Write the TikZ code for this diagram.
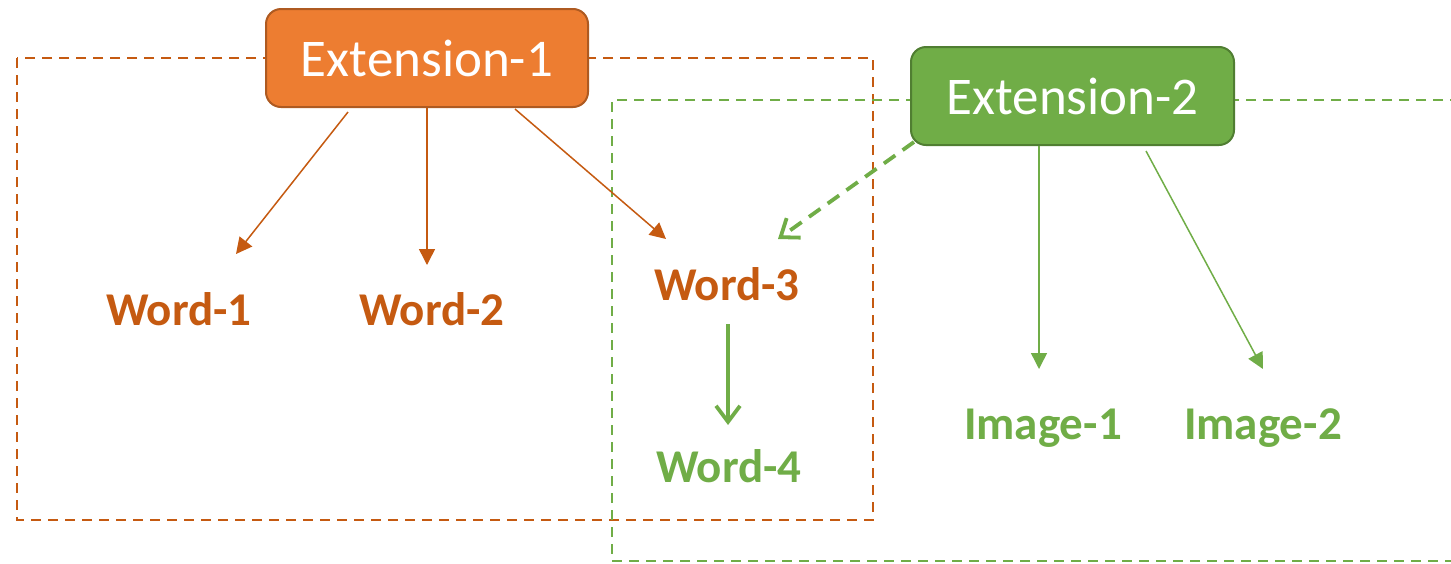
\documentclass[tikz,border=0pt]{standalone}
\usepackage{fontspec}
\setmainfont{Carlito}
\usetikzlibrary{arrows.meta,calc}

\definecolor{orfill}{HTML}{ED7D31}
\definecolor{oredge}{HTML}{AE5A21}
\definecolor{ortext}{HTML}{C55A11}
\definecolor{grfill}{HTML}{70AD47}
\definecolor{gredge}{HTML}{507E32}
\definecolor{grtext}{HTML}{70AD47}

\tikzset{
  extbox/.style={draw, line width=2pt, rounded corners=15pt, inner sep=0pt,
    minimum width=#1, minimum height=98pt, text=white,
    font=\fontsize{53}{60}\selectfont},
  wordlbl/.style={anchor=base, inner sep=0pt, text=#1,
    font=\fontsize{47}{52}\selectfont\bfseries},
  groupline/.style={draw=#1, line width=2.6pt, dash pattern=on 10pt off 7pt},
  thinarrow/.style={draw=#1, line width=1.5pt,
    -{Triangle[length=16pt,width=16pt]}},
  boldarrow/.style={draw=grfill, line width=3.8pt,
    -{Straight Barb[length=16pt,width=24pt,line width=3.8pt]}},
}

\begin{document}
\begin{tikzpicture}[x=1pt,y=-1pt]
\useasboundingbox (0,0) rectangle (1451,563);

% group frames
\draw[groupline=ortext] (17,58) rectangle (873,520);
\draw[groupline=grfill] (1460,100) -- (612,100) -- (612,561) -- (1460,561);

% extension boxes
\node[extbox=322pt, fill=orfill, draw=oredge] (ext1) at (427,58) {Extension-1};
\node[extbox=323pt, fill=grfill, draw=gredge] (ext2) at (1072.5,96) {Extension-2};

% labels
\node[wordlbl=ortext] (w1) at (179,325) {Word-1};
\node[wordlbl=ortext] (w2) at (432,325) {Word-2};
\node[wordlbl=ortext] (w3) at (727,300) {Word-3};
\node[wordlbl=grtext] (w4) at (729,482) {Word-4};
\node[wordlbl=grtext] (i1) at (1043,439) {Image-1};
\node[wordlbl=grtext] (i2) at (1263,439) {Image-2};

% Extension-1 links
\draw[thinarrow=ortext] ([shift={(-79,4)}]ext1.south) -- ([shift={(57,-71)}]w1.base);
\draw[thinarrow=ortext] (ext1.south) -- ([shift={(-5,-60)}]w2.base);
\draw[thinarrow=ortext] ([shift={(88,1)}]ext1.south) -- ([shift={(-61,-61)}]w3.base);

% Extension-2 links
\draw[boldarrow, dash pattern=on 14pt off 9pt]
  ([shift={(4,-4)}]ext2.south west) -- ([shift={(51,-61)}]w3.base);
\draw[thinarrow=grfill] ([shift={(-33.5,0)}]ext2.south) -- ([shift={(-4,-70)}]i1.base);
\draw[thinarrow=grfill] ([shift={(73.5,5)}]ext2.south) -- ([shift={(0,-70)}]i2.base);

% Word-3 to Word-4
\draw[boldarrow] ([shift={(1,24)}]w3.base) -- ([shift={(-1,-57)}]w4.base);
\end{tikzpicture}
\end{document}
